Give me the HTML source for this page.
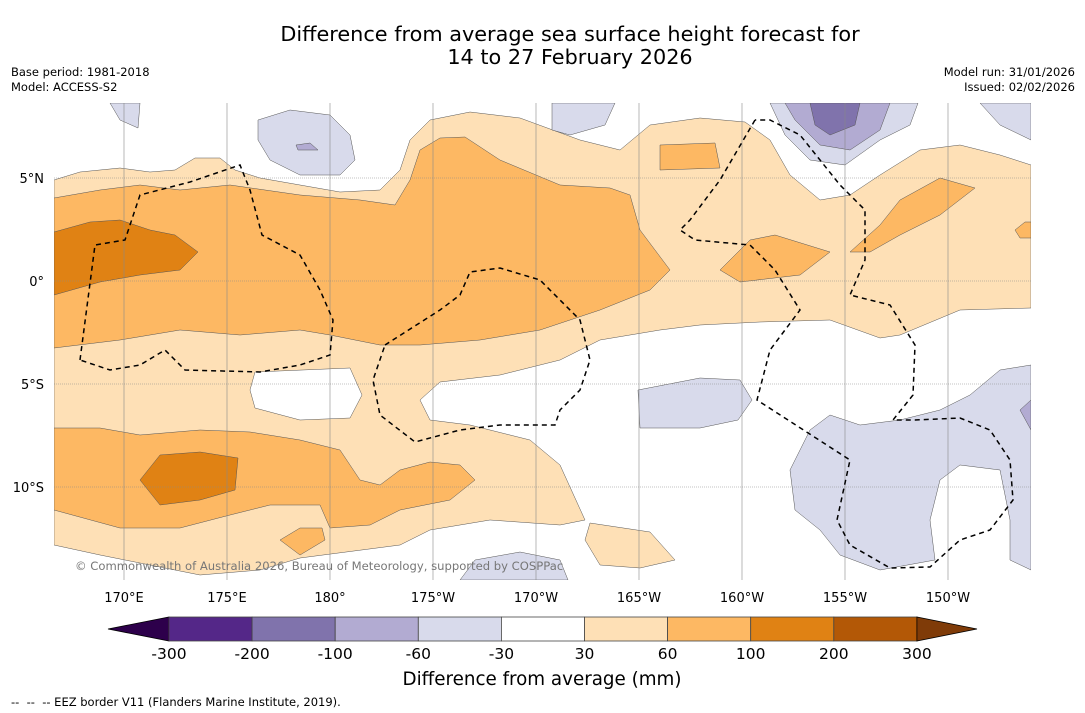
<!DOCTYPE html>
<html><head><meta charset="utf-8"><style>
body{margin:0;background:#fff;width:1085px;height:713px;overflow:hidden;font-family:"DejaVu Sans","Liberation Sans",sans-serif}
svg{position:absolute;left:0;top:0}
</style></head><body>
<svg id="s" width="1085" height="713">
<text x="570" y="41" font-size="20.8" text-anchor="middle">Difference from average sea surface height forecast for</text>
<text x="570" y="64" font-size="20.8" text-anchor="middle">14 to 27 February 2026</text>
<text x="11" y="76" font-size="11.5">Base period: 1981-2018</text>
<text x="11" y="91" font-size="11.5">Model: ACCESS-S2</text>
<text x="1075" y="76" font-size="11.5" text-anchor="end">Model run: 31/01/2026</text>
<text x="1075" y="91" font-size="11.5" text-anchor="end">Issued: 02/02/2026</text>
<g id="map">
<clipPath id="c"><rect x="54" y="103" width="977" height="477"/></clipPath>
<g clip-path="url(#c)" stroke-width="0.5" stroke="#555">
<path fill="#fee0b6" d="M54,180 80,172 120,168 150,172 175,170 195,158 220,158 235,170 260,178 300,185 340,192 380,190 400,170 410,140 430,120 470,112 520,118 580,140 620,150 650,125 700,118 745,122 770,140 790,175 820,200 850,195 880,175 920,150 960,145 1000,155 1031,165 1031,308 960,310 900,335 880,338 830,320 760,322 700,325 660,330 600,340 560,360 500,375 440,382 420,400 430,420 470,425 530,440 560,465 585,520 560,525 490,520 430,530 400,545 300,558 260,570 200,575 150,565 100,555 54,545Z M255,372 350,368 362,395 350,418 300,420 255,408 250,390Z" fill-rule="evenodd"/>
<path fill="#fee0b6" d="M590,523 650,532 675,560 640,568 600,565 585,540Z"/>
<g fill="#fdb863">
<path d="M54,198 100,190 140,185 180,190 230,185 300,195 360,200 395,205 410,180 420,150 440,138 465,137 500,160 560,185 610,188 630,195 640,230 670,270 650,290 600,310 540,330 480,340 420,345 380,345 330,335 300,330 240,335 180,330 120,340 54,348Z"/>
<path d="M54,428 100,428 140,435 200,430 250,432 300,440 340,450 360,480 380,485 400,470 430,462 460,465 475,480 450,500 400,510 370,525 330,528 320,505 270,505 230,515 180,528 120,528 54,510Z"/>
<path d="M280,540 300,528 322,528 325,540 300,555Z"/>
<path d="M660,145 715,143 720,168 660,170Z"/>
<path d="M720,270 750,240 775,235 830,252 800,275 740,282Z"/>
<path d="M850,252 880,225 900,200 940,178 975,188 940,215 900,235 870,252Z"/>
<path d="M1015,230 1025,222 1031,222 1031,238 1020,238Z"/>
</g>
<g fill="#e08214">
<path d="M54,232 90,222 120,220 150,230 175,235 198,252 180,270 140,275 100,282 54,295Z"/>
<path d="M140,480 160,455 200,452 238,458 235,490 200,500 160,505Z"/>
</g>
<g fill="#d8daeb">
<path d="M110,103 140,103 138,128 120,120Z"/>
<path d="M258,120 290,110 330,115 350,135 355,160 340,175 300,175 270,160 258,140Z"/>
<path d="M552,103 615,103 605,125 570,135 552,130Z"/>
<path d="M770,103 918,103 910,125 880,140 845,165 810,160 785,135Z"/>
<path d="M980,103 1031,103 1031,140 1000,125Z"/>
<path d="M638,390 700,378 740,380 752,400 738,420 700,428 640,428Z"/>
<path d="M790,470 810,430 830,415 860,425 900,420 940,410 970,395 1000,370 1031,365 1031,570 1010,560 1010,520 1000,470 960,465 940,480 930,520 935,560 880,570 840,555 820,530 795,510Z"/>
<path d="M460,580 475,560 520,552 560,560 568,580Z"/>
</g>
<path fill="#b2abd2" d="M785,103 890,103 880,130 850,150 820,145 795,120Z M296,145 310,143 318,150 298,150Z M1020,410 1031,400 1031,430Z"/>
<path fill="#8073ac" d="M810,103 860,103 855,125 830,135 815,125Z"/>
</g>
<g stroke="#888" stroke-width="0.6" id="grid"></g>
<g fill="none" stroke="#000" stroke-width="1.5" stroke-dasharray="5,4">
<path d="M80,360 95,245 125,240 140,195 190,182 240,165 250,190 262,235 300,255 320,290 333,320 330,355 300,365 260,372 185,370 165,350 140,365 110,370 80,360"/>
<path d="M385,345 440,310 460,295 470,272 500,268 540,280 580,320 590,360 580,390 560,410 555,425 500,425 460,430 415,442 380,415 373,380 385,345"/>
<path d="M755,120 720,180 690,220 680,230 695,240 750,245 775,270 800,310 770,350 757,400 850,460 837,520 850,545 890,568 930,567 960,540 990,530 1013,500 1010,460 990,430 960,418 915,420 893,420 913,395 915,345 890,305 850,295 865,260 865,210 840,185 820,160 800,135 770,120 755,120"/>
</g>
<text x="75" y="570" font-size="11.6" fill="#777">© Commonwealth of Australia 2026, Bureau of Meteorology, supported by COSPPac</text>
</g>
<g id="axes"></g>
<g id="cbar"></g>
<text x="542" y="685" font-size="18.3" text-anchor="middle">Difference from average (mm)</text>
<text x="11" y="706" font-size="11.5" xml:space="preserve">--  --  -- EEZ border V11 (Flanders Marine Institute, 2019).</text>
</svg>
<script>
const lonLabels=["170°E","175°E","180°","175°W","170°W","165°W","160°W","155°W","150°W"];
const latLabels=["5°N","0°","5°S","10°S"];
const latValues=[5,0,-5,-10];
const levels=[-300,-200,-100,-60,-30,30,60,100,200,300];
const colors=["#542788","#8073ac","#b2abd2","#d8daeb","#ffffff","#fee0b6","#fdb863","#e08214","#b35806"];
const extLow="#2d004b", extHigh="#7f3b08";
const NS="http://www.w3.org/2000/svg";
function mk(t,a,p){const e=document.createElementNS(NS,t);for(const k in a)e.setAttribute(k,a[k]);p.appendChild(e);return e;}
const xLon=i=>124+i*103;
const yLat=v=>281-v*20.6;
const grid=document.getElementById('grid'),axes=document.getElementById('axes');
lonLabels.forEach((l,i)=>{
 const ln=mk('line',{x1:xLon(i),x2:xLon(i),y1:103,y2:580},grid);
 
 
 const t=mk('text',{x:xLon(i),y:602,'font-size':13,'text-anchor':'middle'},axes);t.textContent=l;
 
 
});
latValues.forEach((v,i)=>{
 const ln=mk('line',{x1:54,x2:1031,y1:yLat(v),y2:yLat(v),'stroke-dasharray':'1,1'},grid);
 
 
 const t=mk('text',{x:44,y:yLat(v)+5,'font-size':13,'text-anchor':'end'},axes);t.textContent=latLabels[i];
 
 
});
const cb=document.getElementById('cbar');
const x0=169,w=83.1,y0=617,h=24;
const cbX=i=>x0+i*w;
const lo=mk('polygon',{points:`${x0},${y0} ${x0},${y0+h} 108,${y0+h/2}`,fill:extLow,stroke:'#000','stroke-width':0.8},cb);


colors.forEach((c,i)=>{
 const r=mk('rect',{x:cbX(i),y:y0,width:w,height:h,fill:c,stroke:'#444','stroke-width':0.8},cb);
 
 
});
const e=cbX(colors.length);
const hi=mk('polygon',{points:`${e},${y0} ${e},${y0+h} 977,${y0+h/2}`,fill:extHigh,stroke:'#000','stroke-width':0.8},cb);


levels.forEach((v,i)=>{
 const t=mk('text',{x:cbX(i),y:659,'font-size':15.5,'text-anchor':'middle'},cb);t.textContent=v;
 
 
});
</script>
</body></html>
